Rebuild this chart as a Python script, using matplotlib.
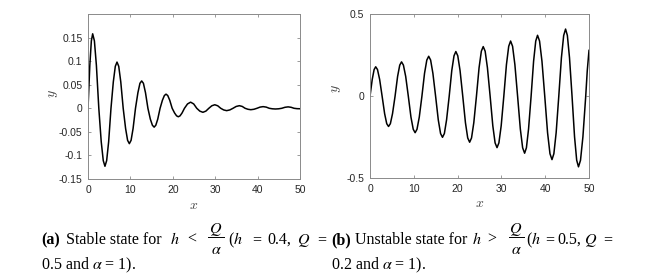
import numpy as np
import matplotlib
matplotlib.use("Agg")
import matplotlib.pyplot as plt
from matplotlib.lines import Line2D

plt.rcParams['mathtext.fontset'] = 'stix'
plt.rcParams['font.family'] = ['Liberation Sans', 'DejaVu Sans']

# (a) stable state: points
x_a = [0, 0.43, 0.79, 1.1, 1.51, 1.98, 2.55,
       3.12, 3.6, 4.0, 4.4, 4.87, 5.42,
       5.97, 6.44, 6.84, 7.25, 7.73, 8.3,
       8.87, 9.34, 9.75, 10.16, 10.63, 11.2,
       11.77, 12.25, 12.66, 13.07, 13.56, 14.13,
       14.7, 15.19, 15.6, 15.99, 16.45, 17.0,
       17.55, 18.01, 18.4, 18.81, 19.28, 19.85,
       20.42, 20.89, 21.3, 21.71, 22.18, 22.75,
       23.47, 24.2, 24.93, 25.65,
       26.37, 27.1, 27.8, 28.5,
       29.2, 29.9, 30.6, 31.3,
       32.0, 32.7, 33.45, 34.2,
       34.95, 35.7, 36.38, 37.05,
       37.73, 38.4, 39.13, 39.85,
       40.58, 41.3, 42.03, 42.75,
       43.48, 44.2, 44.95, 45.7,
       46.45, 47.2, 47.9, 48.6,
       49.3, 50.0]
y_a = [0, 0.091, 0.143, 0.158, 0.143, 0.091, 0,
       -0.071, -0.111, -0.123, -0.111, -0.071, 0,
       0.056, 0.089, 0.098, 0.089, 0.056, 0,
       -0.043, -0.068, -0.075, -0.068, -0.043, 0,
       0.033, 0.053, 0.058, 0.053, 0.033, 0,
       -0.023, -0.036, -0.040, -0.036, -0.023, 0,
       0.017, 0.027, 0.030, 0.027, 0.017, 0,
       -0.010, -0.016, -0.018, -0.016, -0.010, 0,
       0.0092, 0.013, 0.0092, 0,
       -0.006, -0.0085, -0.006, 0,
       0.0053, 0.0075, 0.0053, 0,
       -0.0035, -0.005, -0.0035, 0,
       0.0039, 0.0055, 0.0039, 0,
       -0.0021, -0.003, -0.0021, 0,
       0.0025, 0.0035, 0.0025, 0,
       -0.0011, -0.0015, -0.0011, 0,
       0.0021, 0.003, 0.0021, 0,
       -0.0008, -0.001]

# (b) unstable state: points
x_b = [0, 0.51, 0.94, 1.3, 1.71, 2.2, 2.77,
       3.34, 3.82, 4.23, 4.65, 5.14, 5.72,
       6.3, 6.79, 7.2, 7.63, 8.15, 8.75,
       9.35, 9.87, 10.3, 10.73, 11.25, 11.85,
       12.45, 12.97, 13.4, 13.84, 14.36, 14.98,
       15.59, 16.11, 16.55, 16.98, 17.48, 18.08,
       18.67, 19.18, 19.6, 20.04, 20.56, 21.18,
       21.79, 22.31, 22.75, 23.18, 23.7, 24.3,
       24.9, 25.42, 25.85, 26.29, 26.81, 27.43,
       28.04, 28.56, 29.0, 29.43, 29.95, 30.55,
       31.15, 31.67, 32.1, 32.55, 33.08, 33.7,
       34.32, 34.85, 35.3, 35.71, 36.2, 36.78,
       37.35, 37.84, 38.25, 38.71, 39.26, 39.9,
       40.54, 41.09, 41.55, 41.98, 42.5, 43.1,
       43.7, 44.22, 44.65, 45.06, 45.55, 46.13,
       46.7, 47.19, 47.6, 48.06, 48.61, 49.25,
       49.6, 50.0]
y_b = [0, 0.103, 0.163, 0.18, 0.163, 0.103, 0,
       -0.106, -0.167, -0.184, -0.167, -0.106, 0,
       0.121, 0.190, 0.21, 0.190, 0.121, 0,
       -0.127, -0.201, -0.222, -0.201, -0.127, 0,
       0.140, 0.221, 0.244, 0.221, 0.140, 0,
       -0.144, -0.227, -0.25, -0.227, -0.144, 0,
       0.157, 0.247, 0.273, 0.247, 0.157, 0,
       -0.161, -0.254, -0.28, -0.254, -0.161, 0,
       0.174, 0.275, 0.303, 0.275, 0.174, 0,
       -0.180, -0.284, -0.313, -0.284, -0.180, 0,
       0.193, 0.305, 0.337, 0.305, 0.193, 0,
       -0.199, -0.314, -0.347, -0.314, -0.199, 0,
       0.214, 0.337, 0.372, 0.337, 0.214, 0,
       -0.222, -0.350, -0.386, -0.350, -0.222, 0,
       0.235, 0.371, 0.41, 0.371, 0.235, 0,
       -0.247, -0.390, -0.43, -0.390, -0.247, 0,
       0.155, 0.28]

x_ticks = [0, 10, 20, 30, 40, 50]
y_ticks_a = [-0.15, -0.1, -0.05, 0, 0.05, 0.1, 0.15]
y_labels_a = ['-0.15', '-0.1', '-0.05', '0', '0.05', '0.1', '0.15']
y_ticks_b = [-0.5, 0, 0.5]
y_labels_b = ['-0.5', '0', '0.5']

W, H = 645, 279
fig = plt.figure(figsize=(W / 100, H / 100), dpi=100)

edge = '#8a8a8a'
txt = '#262626'


def style(ax):
    for s in ax.spines.values():
        s.set_color(edge)
        s.set_linewidth(0.7)
    ax.tick_params(direction='in', length=2.5, width=0.6, color=edge,
                   top=True, right=True, labelsize=7.5, labelcolor=txt, pad=4)
    ax.set_xlabel('$x$', math_fontfamily='cm', fontsize=10, color='#444444')
    ax.set_ylabel('$y$', math_fontfamily='cm', fontsize=10, color='#444444')


ax1 = fig.add_axes([88 / W, 1 - 179 / H, 212 / W, 165 / H])
ax1.plot(x_a, y_a, color='black', lw=1.1)
ax1.set_xlim(0, 50)
ax1.set_ylim(-0.15, 0.2)
ax1.set_xticks(x_ticks)
ax1.set_yticks(y_ticks_a, y_labels_a)
style(ax1)
ax1.xaxis.set_label_coords(0.5, -0.118)
ax1.yaxis.set_label_coords(-0.133, 0.52)

ax2 = fig.add_axes([370 / W, 1 - 178.3 / H, 219 / W, 164 / H])
ax2.plot(x_b, y_b, color='black', lw=1.1)
ax2.set_xlim(0, 50)
ax2.set_ylim(-0.5, 0.5)
ax2.set_xticks(x_ticks)
ax2.set_yticks(y_ticks_b, y_labels_b)
style(ax2)
ax2.xaxis.set_label_coords(0.5, -0.11)
ax2.yaxis.set_label_coords(-0.124, 0.55)

FS = 11.5


def put(x, y, s, fs=FS, **kw):
    kw.setdefault('ha', 'left')
    fig.text(x / W, 1 - y / H, s, va='baseline', fontsize=fs,
             family='Liberation Serif', color='black', **kw)


def frac(xc, x0, x1):
    # Q over alpha, drawn at full text size like the caption
    put(xc, 232.5, '$Q$', ha='center')
    put(xc, 254, r'$\alpha$', ha='center')
    fig.add_artist(Line2D([x0 / W, x1 / W], [1 - 237 / H, 1 - 237 / H],
                          color='black', lw=0.7))


# caption (a)
put(41, 244, '(a)', fontweight='bold')
put(66, 244, 'Stable state for')
put(170, 244, '$h$')
put(187, 244, '<')
frac(216, 208, 224)
put(228, 244, '($h$')
put(252, 244, '=')
put(267, 244, '0.4,')
put(297, 244, '$Q$')
put(317, 244, '=')
put(41, 269, r'0.5 and $\alpha$ = 1).')

# caption (b)
put(331, 244, '(b)', fontweight='bold')
put(355, 244, 'Unstable state for')
put(472, 244, '$h$')
put(487, 244, '>')
frac(516, 508.5, 523.5)
put(526, 244, '($h$')
put(545, 244, '=')
put(557, 244, '0.5,')
put(584, 244, '$Q$')
put(603, 244, '=')
put(331, 269, r'0.2 and $\alpha$ = 1).')

fig.savefig('out.png', dpi=100)
